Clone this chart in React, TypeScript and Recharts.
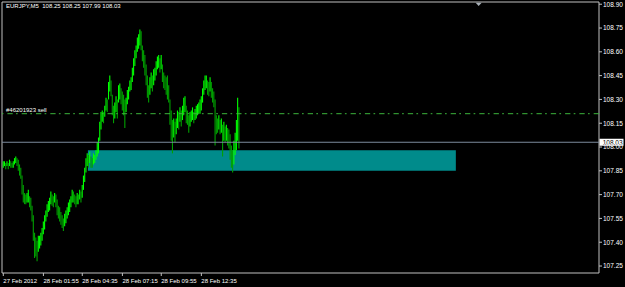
import React from "react";
import { ComposedChart, Bar, Cell, XAxis, YAxis, ReferenceLine, ReferenceArea, ReferenceDot } from "recharts";

// EURJPY M5 bars (bar index -> high / low)
const HIGHS = [
  107.91, 107.91, 107.9, 107.91, 107.9, 107.92, 107.91, 107.9, 107.91, 107.93,
  107.94, 107.93, 107.92, 107.89, 107.87, 107.82, 107.76, 107.71, 107.7, 107.71,
  107.73, 107.69, 107.68, 107.63, 107.57, 107.46, 107.43, 107.41, 107.44, 107.44,
  107.46, 107.49, 107.53, 107.57, 107.6, 107.64, 107.66, 107.68, 107.72, 107.7,
  107.69, 107.71, 107.7, 107.67, 107.63, 107.62, 107.59, 107.57, 107.55, 107.58,
  107.6, 107.62, 107.65, 107.67, 107.69, 107.73, 107.72, 107.7, 107.69, 107.71,
  107.7, 107.73, 107.72, 107.76, 107.82, 107.87, 107.93, 107.96, 107.95, 107.97,
  107.94, 107.93, 107.96, 107.95, 107.98, 108.03, 108.06, 108.16, 108.22, 108.23,
  108.22, 108.26, 108.31, 108.3, 108.41, 108.45, 108.42, 108.33, 108.26, 108.28,
  108.32, 108.3, 108.39, 108.4, 108.37, 108.35, 108.33, 108.3, 108.31, 108.36,
  108.38, 108.42, 108.44, 108.5, 108.56, 108.61, 108.64, 108.69, 108.71, 108.74,
  108.73, 108.64, 108.61, 108.58, 108.52, 108.45, 108.39, 108.44, 108.47, 108.45,
  108.49, 108.5, 108.54, 108.57, 108.58, 108.56, 108.58, 108.52, 108.47, 108.45,
  108.44, 108.45, 108.39, 108.3, 108.23, 108.17, 108.18, 108.16, 108.18, 108.23,
  108.22, 108.25, 108.23, 108.26, 108.31, 108.32, 108.26, 108.23, 108.2, 108.22,
  108.23, 108.25, 108.22, 108.24, 108.26, 108.27, 108.28, 108.3, 108.32, 108.37,
  108.42, 108.45, 108.45, 108.42, 108.41, 108.44, 108.41, 108.37, 108.35, 108.3,
  108.2, 108.18, 108.2, 108.17, 108.18, 108.14, 108.16, 108.13, 108.14, 108.12,
  108.11, 108.08, 108.01, 107.98, 108.04, 108.09, 108.17, 108.31, 108.25,
];

const LOWS = [
  107.87, 107.88, 107.86, 107.88, 107.86, 107.88, 107.87, 107.87, 107.87, 107.89,
  107.9, 107.88, 107.85, 107.82, 107.8, 107.7, 107.65, 107.64, 107.64, 107.65,
  107.65, 107.62, 107.6, 107.53, 107.41, 107.3, 107.31, 107.28, 107.34, 107.36,
  107.38, 107.41, 107.45, 107.48, 107.53, 107.56, 107.59, 107.6, 107.64, 107.63,
  107.62, 107.65, 107.62, 107.57, 107.55, 107.53, 107.51, 107.49, 107.47, 107.5,
  107.52, 107.55, 107.57, 107.59, 107.62, 107.65, 107.65, 107.64, 107.62, 107.64,
  107.64, 107.67, 107.65, 107.68, 107.73, 107.78, 107.84, 107.88, 107.87, 107.9,
  107.87, 107.87, 107.89, 107.9, 107.92, 107.94, 107.96, 108.04, 108.11, 108.16,
  108.15, 108.19, 108.23, 108.22, 108.3, 108.35, 108.32, 108.2, 108.15, 108.18,
  108.22, 108.18, 108.28, 108.3, 108.27, 108.23, 108.2, 108.12, 108.22, 108.27,
  108.3, 108.35, 108.36, 108.41, 108.45, 108.51, 108.56, 108.6, 108.62, 108.64,
  108.61, 108.54, 108.5, 108.45, 108.39, 108.31, 108.28, 108.33, 108.37, 108.35,
  108.39, 108.42, 108.45, 108.49, 108.5, 108.47, 108.49, 108.41, 108.37, 108.36,
  108.33, 108.3, 108.28, 108.14, 108.04, 107.96, 108.06, 108.03, 108.08, 108.12,
  108.11, 108.16, 108.13, 108.17, 108.2, 108.22, 108.15, 108.14, 108.09, 108.13,
  108.16, 108.17, 108.15, 108.17, 108.18, 108.2, 108.21, 108.21, 108.23, 108.28,
  108.33, 108.36, 108.37, 108.33, 108.32, 108.35, 108.31, 108.28, 108.25, 108.01,
  108.08, 108.09, 108.11, 108.08, 108.09, 107.94, 108.04, 108.03, 108.04, 108.01,
  107.99, 107.92, 107.87, 107.84, 107.89, 107.95, 107.98, 108.04, 107.99,
];

const TIME_TICKS = [0, 32, 63, 95, 126, 158];
const TIME_LABELS = ["27 Feb 2012", "28 Feb 01:55", "28 Feb 04:35", "28 Feb 07:15", "28 Feb 09:55", "28 Feb 12:35"];
const PRICE_TICKS = [107.25, 107.4, 107.55, 107.7, 107.85, 108.0, 108.15, 108.3, 108.45, 108.6, 108.75, 108.9];

const LAST_OHLC = [108.25, 108.25, 107.99, 108.03];
const BID = 108.03;
const ORDER_PRICE = 108.21;
const ORDER_LABEL = "#46201923 sell";
const ZONE_X = [67.5, 361];
const ZONE_Y = [107.85, 107.98];
const SHIFT_AT = 379.2;

const X_DOMAIN = [-1.04, 475.2];
const Y_DOMAIN = [107.206, 108.914];

const FONT = "'Liberation Sans', Arial, sans-serif";
const BORDER = "#c0c0c0";
const UP = "#00ff00";
const DOWN = "#00a000";

const bars = HIGHS.map((h, i) => ({ i, range: [LOWS[i], h] }));

// falling bars look darker in the screenshot
const barColor = (i: number) => {
  if (i === 0) return UP;
  return HIGHS[i] + LOWS[i] >= HIGHS[i - 1] + LOWS[i - 1] ? UP : DOWN;
};

const TimeTick = ({ x, y, payload }: any) => {
  const idx = TIME_TICKS.indexOf(payload.value);
  return (
    <text x={x} y={y} dy={4.8} fill="#fff" fontSize={6} fontFamily={FONT} textAnchor="start">
      {TIME_LABELS[idx]}
    </text>
  );
};

const BidTag = ({ viewBox }: any) => {
  const { x, y, width } = viewBox;
  return (
    <g>
      <rect x={x + width + 0.5} y={y - 3.5} width={24} height={7} fill="#fff" />
      <text x={x + width + 3.7} y={y} dy="0.35em" fill="#000" fontSize={6.5} fontFamily={FONT}>
        {BID.toFixed(2)}
      </text>
    </g>
  );
};

const OrderTag = ({ viewBox }: any) => {
  const { x, y } = viewBox;
  return (
    <text x={x + 4} y={y - 2} fill="#fff" fontSize={6} fontFamily={FONT}>
      {ORDER_LABEL}
    </text>
  );
};

const ShiftMark = ({ cx, cy }: any) => (
  <polygon points={`${cx - 3},${cy + 0.8} ${cx + 3},${cy + 0.8} ${cx},${cy + 4}`} fill="#a8b0b8" />
);

export default function App() {
  return (
    <div style={{ position: "fixed", left: 0, top: 0, width: 625, height: 287, background: "#000" }}>
      <div
        style={{
          position: "absolute",
          left: 6,
          top: 3,
          color: "#fff",
          fontSize: 6,
          fontFamily: FONT,
          whiteSpace: "pre",
          lineHeight: "7px",
          zIndex: 2,
        }}
      >
        {"EURJPY,M5  " + LAST_OHLC.map((v) => v.toFixed(2)).join(" ")}
      </div>
      <ComposedChart width={625} height={287} data={bars} margin={{ top: 2, right: 0, bottom: 0, left: 2 }}>
        <ReferenceArea
          x1={ZONE_X[0]}
          x2={ZONE_X[1]}
          y1={ZONE_Y[0]}
          y2={ZONE_Y[1]}
          fill="#008b8b"
          fillOpacity={1}
          stroke="none"
        />
        <ReferenceLine y={BID} stroke="#7c8a9c" strokeWidth={1} label={<BidTag />} />
        <ReferenceLine
          y={ORDER_PRICE}
          stroke="#3cb43c"
          strokeWidth={1}
          strokeDasharray="5.3 4 1.7 3.3"
          label={<OrderTag />}
        />
        <XAxis
          dataKey="i"
          type="number"
          domain={X_DOMAIN}
          allowDataOverflow
          ticks={TIME_TICKS}
          interval={0}
          height={14}
          axisLine={false}
          tickLine={{ stroke: BORDER }}
          tickSize={3}
          tickMargin={2}
          tick={<TimeTick />}
        />
        <YAxis
          orientation="right"
          type="number"
          domain={Y_DOMAIN}
          allowDataOverflow
          ticks={PRICE_TICKS}
          interval={0}
          width={26}
          axisLine={false}
          tickLine={{ stroke: BORDER }}
          tickSize={3}
          tickMargin={1}
          tickFormatter={(v: number) => v.toFixed(2)}
          tick={{ fill: "#fff", fontSize: 6.5, fontFamily: FONT }}
        />
        <Bar dataKey="range" barSize={1.1} isAnimationActive={false}>
          {bars.map((b) => (
            <Cell key={b.i} fill={barColor(b.i)} />
          ))}
        </Bar>
        <ReferenceArea
          x1={X_DOMAIN[0]}
          x2={X_DOMAIN[1]}
          y1={Y_DOMAIN[0]}
          y2={Y_DOMAIN[1]}
          fill="none"
          stroke={BORDER}
          strokeWidth={1}
          ifOverflow="visible"
        />
        <ReferenceDot x={SHIFT_AT} y={Y_DOMAIN[1]} r={3} shape={<ShiftMark />} ifOverflow="visible" />
      </ComposedChart>
    </div>
  );
}
